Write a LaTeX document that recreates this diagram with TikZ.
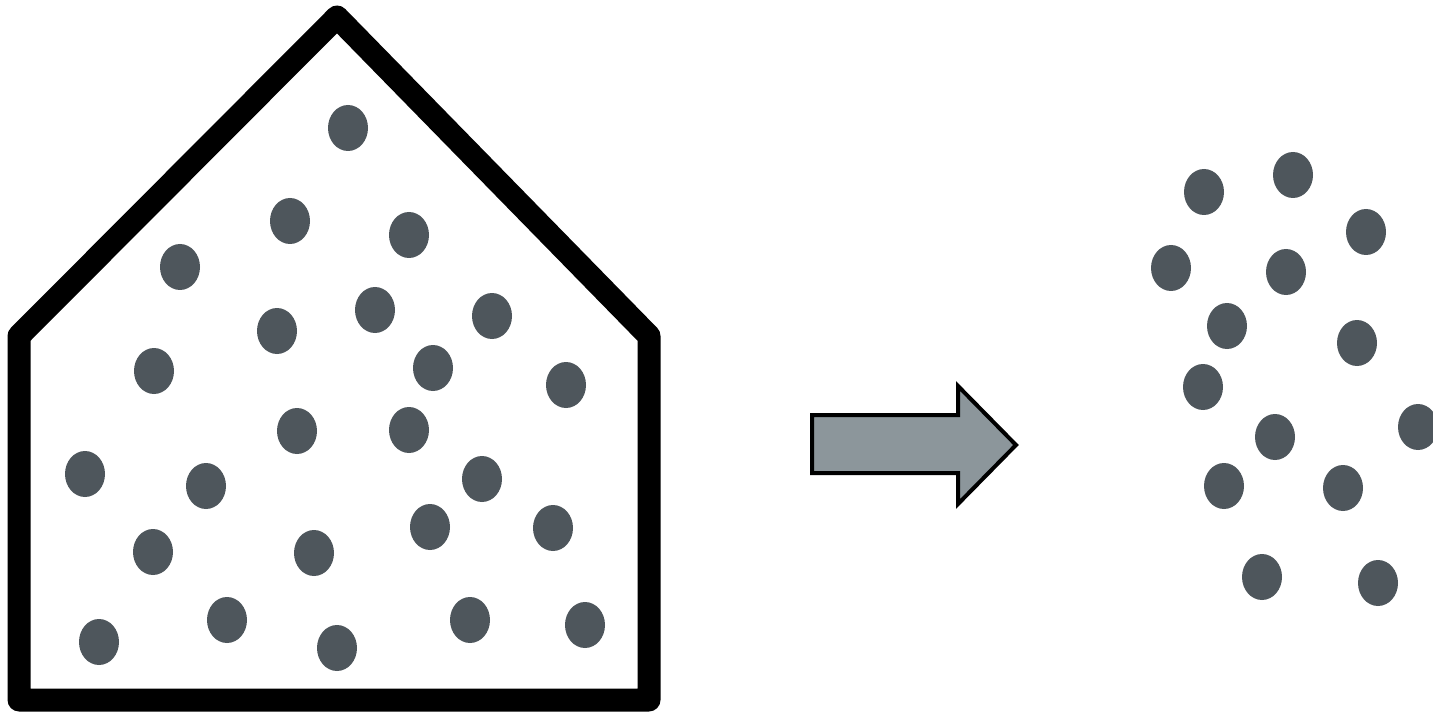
\documentclass[tikz,border=0pt]{standalone}
\usetikzlibrary{shapes.geometric}
\definecolor{dotgray}{RGB}{78,86,92}
\definecolor{arrowgray}{RGB}{140,150,155}
\tikzset{
  dot/.style={ellipse,fill=dotgray,minimum width=40pt,minimum height=46pt,inner sep=0pt},
  house/.style={line width=23pt,line join=round,draw=black},
  bigarrow/.style={line width=4pt,line join=miter,draw=black,fill=arrowgray}
}
\begin{document}
\begin{tikzpicture}[x=1pt,y=-1pt]
\useasboundingbox (0,0) rectangle (1433,714);
% house outline
\coordinate (bl) at (19,700);
\coordinate (lc) at (19,336);
\coordinate (ap) at (337,17);
\coordinate (rc) at (649,336);
\coordinate (br) at (649,700);
\draw[house] (bl) -- (lc) -- (ap) -- (rc) -- (br) -- cycle;
% dots inside house
\foreach \x/\y [count=\i] in {348/128,290/221,409/235,180/267,277/331,375/310,492/316,154/371,433/368,566/385,297/431,409/430,85/474,206/486,482/479,153/552,314/553,430/527,553/528,99/642,227/620,337/648,470/620,585/625}
  \node[dot] (h\i) at (\x,\y) {};
% arrow
\draw[bigarrow] (812,415) -- (958,415) -- (958,386) -- (1016,445) -- (958,504) -- (958,473) -- (812,473) -- cycle;
% dots outside
\foreach \x/\y [count=\i] in {1204/192,1293/175,1366/232,1171/268,1286/272,1227/326,1357/343,1203/387,1275/437,1418/427,1224/486,1343/488,1262/577,1378/583}
  \node[dot] (o\i) at (\x,\y) {};
\end{tikzpicture}
\end{document}
